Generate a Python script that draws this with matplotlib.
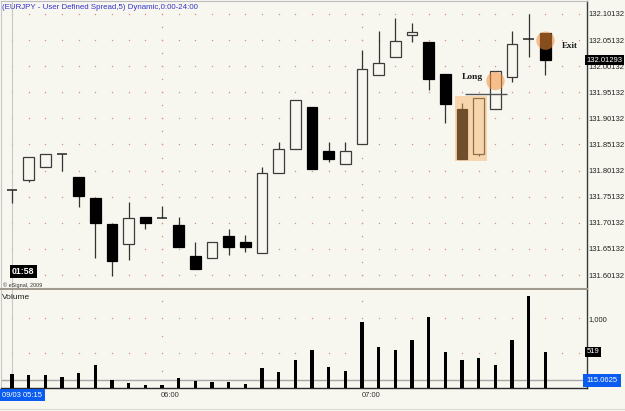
import matplotlib
matplotlib.use("Agg")
import matplotlib.pyplot as plt
import matplotlib.transforms as mtransforms

plt.rcParams['font.family'] = ['Liberation Sans', 'DejaVu Sans']

# ---------------- data ----------------
opens = [131.7636, 131.7833, 131.8076, 131.8331, 131.7896, 131.7494, 131.6996, 131.6607,
         131.7124, 131.7105, 131.6971, 131.6383, 131.6344, 131.6754, 131.6639, 131.6429,
         131.7961, 131.8427, 131.9237, 131.8394, 131.8134, 131.8517, 131.9839, 132.0183,
         132.0616, 132.0471, 131.9864, 131.9187, 131.8331, 131.9193, 131.9800, 132.0528,
         132.0643]
highs = [131.7640, 131.8279, 131.8325, 131.8331, 131.7896, 131.7494, 131.6996, 131.7406,
         131.7124, 131.7341, 131.7124, 131.6639, 131.6639, 131.6888, 131.6779, 131.8076,
         131.8555, 131.9365, 131.9237, 131.8555, 131.8555, 132.0323, 132.0693, 132.0931,
         132.0846, 132.0471, 131.9864, 131.9302, 131.9398, 131.9927, 132.0693, 132.1013,
         132.0643]
lows = [131.7392, 131.7800, 131.8076, 131.8011, 131.7310, 131.6344, 131.6000, 131.6300,
        131.6894, 131.7105, 131.6544, 131.6122, 131.6344, 131.6390, 131.6454, 131.6429,
        131.7961, 131.8427, 131.8038, 131.8172, 131.8134, 131.8517, 131.9839, 132.0183,
        132.0482, 131.9557, 131.8919, 131.8230, 131.8293, 131.9193, 131.9716, 132.0183,
        131.9844]
closes = [131.7636, 131.8279, 131.8325, 131.8331, 131.7532, 131.7003, 131.6281, 131.7099,
          131.7009, 131.7105, 131.6544, 131.6122, 131.6639, 131.6549, 131.6544, 131.7961,
          131.8421, 131.9365, 131.8038, 131.8230, 131.8394, 131.9954, 132.0080, 132.0502,
          132.0662, 131.9762, 131.9283, 131.8230, 131.9398, 131.9927, 132.0433, 132.0528,
          132.0129]
volumes = [200, 190, 186, 161, 219, 333, 124, 76, 43, 43, 143, 109, 86, 95, 67, 295,
           228, 400, 552, 304, 247, 943, 590, 543, 686, 1019, 524, 400, 428, 333, 686,
           1314, 519]

price_ticks = [131.60132, 131.65132, 131.70132, 131.75132, 131.80132, 131.85132,
               131.90132, 131.95132, 132.00132, 132.05132, 132.10132]
time_tick_idx = [0, 9, 21]
time_tick_labels = ['09/03 05:15', '06:00', '07:00']
last_price = 132.01293
last_volume = 519
volume_avg = 115.0625
volume_ticks = [1000]
volume_tick_labels = ['1,000']
volume_grid = [500, 1000]

long_idx, long_price = 29, 131.9730
exit_idx, exit_price = 32, 132.0502
long_line_price = 131.9475
highlight_x = (26.58, 28.47)
highlight_y = (131.8197, 131.9442)

title = '(EURJPY - User Defined Spread,5) Dynamic,0:00-24:00'

# ---------------- style ----------------
BG = '#f7f6ef'
DOT = '#d98c8c'
LBL = 5.5
n = len(opens)
xs = list(range(n))

W, H = 625, 411
fig = plt.figure(figsize=(W / 100, H / 100), dpi=100, facecolor=BG)

def frac(x0, y0, x1, y1):
    return [x0 / W, (H - y1) / H, (x1 - x0) / W, (y1 - y0) / H]

ax = fig.add_axes(frac(1, 1, 586.5, 288.5), facecolor=BG)
axv = fig.add_axes(frac(1, 290, 586.5, 388.3), facecolor=BG)

xl = (-0.66, 34.46)
ax.set_xlim(*xl)
ax.set_ylim(131.57546, 132.12622)
axv.set_xlim(*xl)
axv.set_ylim(0, 1404)

# grid dots (price panel)
grid_x = list(range(0, 35))
for t in price_ticks:
    ax.plot(grid_x, [t] * len(grid_x), linestyle='none', marker='s', markersize=0.9,
            markeredgewidth=0, color=DOT, zorder=1)
step = price_ticks[1] - price_ticks[0]
half_levels = [price_ticks[0] - step / 2 + k * step / 2 for k in range(0, 24)]
for i in time_tick_idx[1:]:
    ax.plot([i] * len(half_levels), half_levels, linestyle='none', marker='s',
            markersize=0.9, markeredgewidth=0, color=DOT, zorder=1)
# grid dots (volume panel)
for t in volume_grid:
    axv.plot(grid_x, [t] * len(grid_x), linestyle='none', marker='s', markersize=0.9,
             markeredgewidth=0, color=DOT, zorder=1)
for i in time_tick_idx[1:]:
    axv.plot([i] * 3, [250, 750, 1250], linestyle='none', marker='s', markersize=0.9,
             markeredgewidth=0, color=DOT, zorder=1)

# cursor line
ax.axvline(0, color='#c8c8c8', lw=0.8, zorder=1.5)
axv.axvline(0, color='#c8c8c8', lw=0.8, zorder=1.5)

# candles
bw = 0.64
for i in xs:
    o, h, l, c = opens[i], highs[i], lows[i], closes[i]
    ax.vlines(i, l, h, color='#333333', lw=0.9, zorder=2)
    if abs(c - o) < 1e-9:
        ax.hlines(o, i - bw / 2, i + bw / 2, color='#222222', lw=1.1, zorder=3)
    elif c > o:
        ax.bar(i, c - o, bottom=o, width=bw, facecolor=BG, edgecolor='#3c3c3c',
               linewidth=0.9, zorder=3)
    else:
        ax.bar(i, o - c, bottom=c, width=bw, facecolor='black', edgecolor='black',
               linewidth=0.9, zorder=3)

# volume bars
axv.bar(xs, volumes, width=0.2, color='black', zorder=3)
axv.axhline(volume_avg, color='#a8a8a8', lw=1.0, zorder=2)

# highlight
ax.fill_between(list(highlight_x), highlight_y[0], highlight_y[1], color='#f8b060',
                alpha=0.45, lw=0, zorder=5)
ax.hlines(long_line_price, 27.2, 29.7, color='#555555', lw=1.0, zorder=6)
ax.scatter([long_idx, exit_idx], [long_price, exit_price], s=175, color='#f5903a',
           alpha=0.55, edgecolors='none', zorder=7)
ax.text(27.6, 131.9806, 'Long', family=['Liberation Serif', 'DejaVu Serif'],
        fontweight='bold', fontsize=6.8, ha='center', va='center', color='#1a1a1a', zorder=8)
ax.text(33.45, 132.0400, 'Exit', family=['Liberation Serif', 'DejaVu Serif'],
        fontweight='bold', fontsize=6.5, ha='center', va='center', color='#1a1a1a', zorder=8)

# price axis
ax.yaxis.tick_right()
ax.set_yticks(price_ticks)
ax.set_yticklabels([f'{t:.5f}' for t in price_ticks])
ax.tick_params(axis='y', length=0, pad=1.2, labelsize=LBL, labelcolor='#222222')
ax.set_xticks([])
ax.text(1.0, last_price, f'{last_price:.5f}', transform=ax.get_yaxis_transform(),
        ha='left', va='center', fontsize=LBL, color='white', zorder=10,
        bbox=dict(boxstyle='square,pad=0.2', fc='black', ec='none'), clip_on=False)

# volume axis
axv.yaxis.tick_right()
axv.set_yticks(volume_ticks)
axv.set_yticklabels(volume_tick_labels)
axv.tick_params(axis='y', length=0, pad=1.2, labelsize=LBL, labelcolor='#222222')
axv.set_xticks([])
axv.text(1.0, last_volume, f'{last_volume}', transform=axv.get_yaxis_transform(),
         ha='left', va='center', fontsize=LBL, color='white', zorder=10,
         bbox=dict(boxstyle='square,pad=0.2', fc='black', ec='none'), clip_on=False)
axv.text(1.0, volume_avg, f'{volume_avg:.4f}', transform=axv.get_yaxis_transform(),
         ha='left', va='center', fontsize=LBL, color='white', zorder=10,
         bbox=dict(boxstyle='square,pad=0.4', fc='#0a5cf0', ec='none'), clip_on=False)

# time labels
tr = mtransforms.blended_transform_factory(axv.transData, axv.transAxes)
for i, lab in zip(time_tick_idx, time_tick_labels):
    if i == 0:
        axv.text(0.002, -0.07, lab, transform=axv.transAxes, ha='left', va='center',
                 fontsize=LBL, color='white', clip_on=False,
                 bbox=dict(boxstyle='square,pad=0.35', fc='#0a5cf0', ec='none'))
    else:
        axv.text(i - 0.05, -0.07, lab, transform=tr, ha='left', va='center',
                 fontsize=LBL, color='#333333', clip_on=False)

# overlays text
ax.text(0.002, 0.979, title, transform=ax.transAxes, ha='left', va='center',
        fontsize=5.7, color='#3535cc')
ax.text(0.019, 0.059, '01:58', transform=ax.transAxes, ha='left', va='center',
        fontweight='bold', fontsize=6.3,
        color='white', bbox=dict(boxstyle='square,pad=0.25', fc='black', ec='none'), zorder=10)
ax.text(0.004, 0.012, '\u00a9 eSignal, 2009', transform=ax.transAxes, ha='left',
        va='center', fontsize=4.0, color='#333333')
axv.text(0.002, 0.92, 'Volume', transform=axv.transAxes, ha='left', va='center',
         fontsize=6.0, color='#222222')

# spines
for a in (ax, axv):
    a.spines['left'].set_color('#c8c8c8')
    a.spines['top'].set_color('#bdbdbd')
    a.spines['right'].set_color('#3a3a3a')
    a.spines['right'].set_linewidth(1.0)
ax.spines['bottom'].set_color('#a09a90')
ax.spines['bottom'].set_linewidth(1.5)
axv.spines['top'].set_visible(False)
axv.spines['bottom'].set_color('#2a2a2a')
axv.spines['bottom'].set_linewidth(1.0)

fig.add_artist(plt.Line2D([0, 1], [2 / H, 2 / H], color='#dcdcd4', lw=0.8))

fig.savefig('out.png', dpi=100, facecolor=BG)
